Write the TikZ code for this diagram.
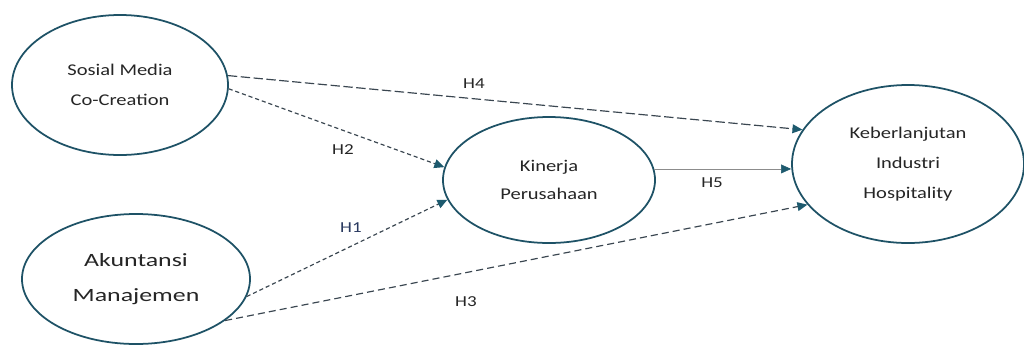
\documentclass[tikz,border=0pt]{standalone}
\usepackage{fontspec}
\setmainfont{Carlito}[FakeStretch=1.25]
\newfontfamily\wideakun{Carlito}[FakeStretch=1.38]
\usetikzlibrary{shapes.geometric,arrows.meta}
\definecolor{ellc}{HTML}{1E5266}
\definecolor{linec}{HTML}{3A4650}
\definecolor{tipc}{HTML}{1D5A6E}
\definecolor{hone}{HTML}{2A3A60}
\tikzset{
  construct/.style={ellipse,draw=ellc,line width=1.5pt,inner sep=0pt,align=center,text=black!85},
  path/.style={line width=1pt,draw=linec,-{Triangle[length=8.5pt,width=7.5pt,fill=tipc,color=tipc]}},
  shortdash/.style={dash pattern=on 3.5pt off 2.5pt},
  longdash/.style={dash pattern=on 8pt off 3pt},
  meddash/.style={dash pattern=on 6pt off 3.5pt},
  hlabel/.style={font=\fontsize{13}{15}\selectfont,text=black!85,inner sep=1pt}
}
\begin{document}
\begin{tikzpicture}[x=0.03cm,y=-0.03cm]
\useasboundingbox[fill=white] (0,0) rectangle (1024,350);
\node[construct,minimum width=6.48cm,minimum height=4.2cm,font=\fontsize{14}{25.5}\selectfont] (A) at (120,85) {Sosial Media\\Co-Creation};
\node[construct,minimum width=6.84cm,minimum height=3.9cm,font=\wideakun\fontsize{16}{30.5}\selectfont] (B) at (136,279) {Akuntansi\\Manajemen};
\node[construct,minimum width=6.36cm,minimum height=3.78cm,font=\fontsize{14}{24}\selectfont] (C) at (549,180) {Kinerja\\Perusahaan};
\node[construct,minimum width=6.96cm,minimum height=4.74cm,font=\fontsize{14}{25.5}\selectfont] (D) at (908,164) {Keberlanjutan\\Industri\\Hospitality};

\draw[path,longdash] (A.5) -- (D.162);
\draw[path,shortdash] (A.-2) -- (C.173);
\draw[path,shortdash] (B.-9.5) -- (C.191);
\draw[path,meddash] (B.-25.6) -- (D.202.8);
\draw[path,line width=0.5pt,draw=black!45] (C.6) -- (C.6 -| D.west);

\node[hlabel] (h4) at (474,84) {H4};
\node[hlabel] (h2) at (343,150) {H2};
\node[hlabel,text=hone] (h1) at (351,228) {H1};
\node[hlabel] (h5) at (712,183) {H5};
\node[hlabel] (h3) at (466,302) {H3};
\end{tikzpicture}
\end{document}
